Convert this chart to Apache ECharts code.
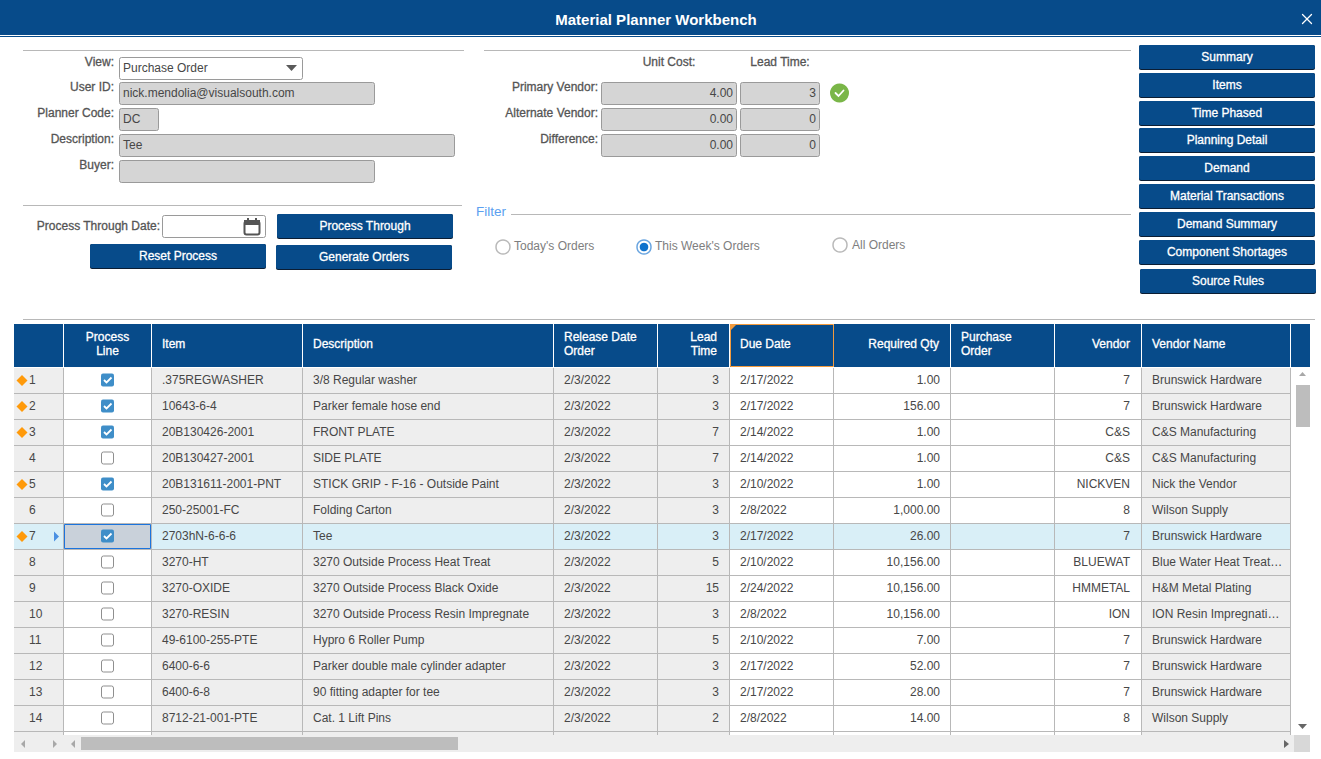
<!DOCTYPE html>
<html><head><meta charset="utf-8">
<style>html,body{margin:0;padding:0;background:#fff;overflow:hidden}#c{width:1321px;height:759px}</style>
<script src="https://cdn.jsdelivr.net/npm/echarts@6/dist/echarts.min.js"></script>
</head><body><div id="c"></div>
<script>
// ---- data ----
const rowNumbers = [1,2,3,4,5,6,7,8,9,10,11,12,13,14];
const processLine = [1,1,1,0,1,0,1,0,0,0,0,0,0,0];
const flagged = [1,1,1,0,1,0,1,0,0,0,0,0,0,0];
const items = ['.375REGWASHER','10643-6-4','20B130426-2001','20B130427-2001','20B131611-2001-PNT','250-25001-FC','2703hN-6-6-6','3270-HT','3270-OXIDE','3270-RESIN','49-6100-255-PTE','6400-6-6','6400-6-8','8712-21-001-PTE'];
const descriptions = ['3/8 Regular washer','Parker female hose end','FRONT PLATE','SIDE PLATE','STICK GRIP - F-16 - Outside Paint','Folding Carton','Tee','3270 Outside Process Heat Treat','3270 Outside Process Black Oxide','3270 Outside Process Resin Impregnate','Hypro 6 Roller Pump','Parker double male cylinder adapter','90 fitting adapter for tee','Cat. 1 Lift Pins'];
const releaseDates = ['2/3/2022','2/3/2022','2/3/2022','2/3/2022','2/3/2022','2/3/2022','2/3/2022','2/3/2022','2/3/2022','2/3/2022','2/3/2022','2/3/2022','2/3/2022','2/3/2022'];
const leadTimes = [3,3,7,7,3,3,3,5,15,3,5,3,3,2];
const dueDates = ['2/17/2022','2/17/2022','2/14/2022','2/14/2022','2/10/2022','2/8/2022','2/17/2022','2/10/2022','2/24/2022','2/8/2022','2/10/2022','2/17/2022','2/17/2022','2/8/2022'];
const requiredQty = ['1.00','156.00','1.00','1.00','1.00','1,000.00','26.00','10,156.00','10,156.00','10,156.00','7.00','52.00','28.00','14.00'];
const vendors = ['7','7','C&S','C&S','NICKVEN','8','7','BLUEWAT','HMMETAL','ION','7','7','7','8'];
const vendorNames = ['Brunswick Hardware','Brunswick Hardware','C&S Manufacturing','C&S Manufacturing','Nick the Vendor','Wilson Supply','Brunswick Hardware','Blue Water Heat Treat…','H&M Metal Plating','ION Resin Impregnati…','Brunswick Hardware','Brunswick Hardware','Brunswick Hardware','Wilson Supply'];
const columnHeaders = ['','Process\nLine','Item','Description','Release Date\nOrder','Lead\nTime','Due Date','Required Qty','Purchase\nOrder','Vendor','Vendor Name'];
const sideButtons = ['Summary','Items','Time Phased','Planning Detail','Demand','Material Transactions','Demand Summary','Component Shortages','Source Rules'];
const selectedRow = 6;

// ---- style / layout ----
const F = 'Liberation Sans, Arial, sans-serif';
const BLUE = '#074b8a', LINE = '#b8b8b8', TXT = '#474747', LBL = '#555555';
const edges = [14,63,151,302,553,657,729,833,950,1054,1141,1290];
const whiteCols = {1:1,6:1,7:1,8:1,9:1};
const ROWH = 26, ROWTOP = 368;

const G = [];
const rect=(x,y,w,h,fill,extra)=>G.push(Object.assign({type:'rect',shape:{x,y,width:w,height:h,r:(extra&&extra.r)||0},style:{fill,stroke:(extra&&extra.stroke)||null,lineWidth:(extra&&extra.lw)||1},silent:true,z:(extra&&extra.z)||1}));
const text=(s,x,y,o={})=>G.push({type:'text',z:o.z||5,silent:true,style:{text:s,x,y,fill:o.fill||LBL,stroke:o.stroke||null,lineWidth:o.stroke?0.3:0,font:(o.weight||'normal')+' '+(o.size||12)+'px '+F,textAlign:o.align||'left',textVerticalAlign:'middle',textBaseline:'middle',lineHeight:o.lh||14}});
const label=(s,x,y,o={})=>text(s,x,y,Object.assign({stroke:LBL},o));
const poly=(pts,fill,z)=>G.push({type:'polygon',silent:true,z:z||5,shape:{points:pts},style:{fill}});
const pl=(pts,stroke,lw,z)=>G.push({type:'polyline',silent:true,z:z||5,shape:{points:pts},style:{stroke,lineWidth:lw,fill:null,lineCap:'round'}});
const circ=(cx,cy,r,fill,stroke,lw)=>G.push({type:'circle',silent:true,z:5,shape:{cx,cy,r},style:{fill,stroke:stroke||null,lineWidth:lw||1}});

// title bar
rect(0,0,1321,35,BLUE); rect(0,36,1321,1,BLUE);
text('Material Planner Workbench',656,19.5,{fill:'#fff',size:15,weight:'bold',align:'center'});
pl([[1302.5,14.5],[1311.5,23.5]],'#fff',1.3); pl([[1311.5,14.5],[1302.5,23.5]],'#fff',1.3);

// separators
rect(23,50,441,1,LINE); rect(484,50,647,1,LINE); rect(23,205,439,1,LINE); rect(511,214,620,1,LINE); rect(23,319,1292,1,LINE);

// left form
const field=(x,y,w,h,fill)=>rect(x+.5,y+.5,w-1,h-1,fill,{stroke:'#9a9a9a',r:2});
[['View:',62],['User ID:',87],['Planner Code:',113],['Description:',139],['Buyer:',165]].forEach(a=>label(a[0],114,a[1],{align:'right'}));
field(119,57,184,23,'#fff'); text('Purchase Order',123,68,{fill:TXT});
poly([[286,65],[297,65],[291.5,71]],'#5a5a5a');
field(119,82,256,23,'#d5d5d5'); text('nick.mendolia@visualsouth.com',123,93,{fill:TXT});
field(119,108,40,23,'#d5d5d5'); text('DC',123,119,{fill:TXT});
field(119,134,336,23,'#d5d5d5'); text('Tee',123,145,{fill:TXT});
field(119,160,256,23,'#d5d5d5');

// middle form
label('Unit Cost:',669,62,{align:'center'}); label('Lead Time:',780,62,{align:'center'});
[['Primary Vendor:',87,'4.00','3',82],['Alternate Vendor:',113,'0.00','0',108],['Difference:',139,'0.00','0',134]].forEach(a=>{
  label(a[0],598,a[1],{align:'right'});
  field(601,a[4],136,23,'#d5d5d5'); field(740,a[4],80,23,'#d5d5d5');
  text(a[2],733,a[4]+11,{align:'right',fill:TXT}); text(a[3],816,a[4]+11,{align:'right',fill:TXT});
});
circ(839.5,93,9.5,'#7ab648');
pl([[835.5,93],[838.5,96],[843.5,90.5]],'#fff',1.8);

// process
label('Process Through Date:',160,226,{align:'right'});
field(162,215,104,23,'#fff');
rect(244.5,221.5,15,13,'#fff',{stroke:'#555',lw:2,r:2,z:5}); rect(244,220,16,5,'#555',{z:6});
rect(247,218,2,3,'#555',{z:6}); rect(255,218,2,3,'#555',{z:6});

const button=(name,x,y,w,h)=>{rect(x,y,w,h,'#0b1d33',{r:2,z:2}); rect(x,y,w,h-1,BLUE,{r:2,z:3}); text(name,x+w/2,y+h/2-1,{fill:'#fff',stroke:'#fff',align:'center'});};
button('Process Through',277,214,176,25);
button('Reset Process',90,244,176,25);
button('Generate Orders',276,245,176,25);

// side buttons
const sideY=[45,73,101,128,156,184,212,240,269];
sideButtons.forEach((b,i)=>button(b,i===8?1140:1139,sideY[i],176,25));

// filter
text('Filter',476,211.5,{fill:'#5b9ff0',size:13.5});
circ(503,247,7,'#fff','#b9b9b9',1.5); text("Today's Orders",514,246,{fill:'#7e7e7e'});
circ(644,247,7,'#fff','#6aa5e0',1.5); circ(644,247,4.3,'#0f72cc'); text("This Week's Orders",655,246,{fill:'#7e7e7e'});
circ(840,245,7,'#fff','#b9b9b9',1.5); text('All Orders',852,245,{fill:'#7e7e7e'});

// table header
rect(14,324,1296,43,BLUE);
for(let i=1;i<edges.length;i++) rect(edges[i],324,1,43,'#fff',{z:2});
const hdrStyle=[null,{x:107.5,a:'center'},{x:162},{x:313},{x:564},{x:717,a:'right'},{x:740},{x:939,a:'right'},{x:961},{x:1130,a:'right'},{x:1152}];
columnHeaders.forEach((h,i)=>{ if(!h) return; const s=hdrStyle[i];
  const ls=h.split('\n'); ls.forEach((t,k)=>text(t,s.x,ls.length>1?337+14*k:344,{fill:'#fff',stroke:'#fff',align:s.a||'left'}));});
// sorted column marker
rect(730.5,324.5,103,42,'none',{stroke:'#f29a3d',z:3}); poly([[730,324],[737,324],[730,331]],'#f29a3d',4);

// scroll bars (drawn over the table)
rect(1291,368,19,366,'#fff',{z:20});
rect(1294,368,27,367,'#fff',{z:19});
rect(1296,385,14,42,'#bdbdbd',{z:21});
poly([[1299,376],[1306,376],[1302.5,372]],'#a8a8a8',21);
poly([[1298,724],[1307,724],[1302.5,729]],'#666',21);
rect(14,735,1280,17,'#eeeeee',{z:20}); rect(1294,735,16,17,'#d8d8d8',{z:20});
rect(0,752,1321,7,'#ffffff',{z:20});
rect(81,737,377,13,'#bdbdbd',{z:21});
poly([[25,740],[25,748],[21,744]],'#a8a8a8',21);
poly([[53,740],[53,748],[57,744]],'#a8a8a8',21);
poly([[75,740],[75,748],[71,744]],'#a8a8a8',21);
poly([[1284,740],[1284,748],[1289,744]],'#666',21);

// table body: one datum per row, placed through the axes
const rowData = rowNumbers.map((n,i)=>[i]);
rowData.push([14]);

function renderRow(params, api){
  const r = api.value(0), kids=[];
  const top = api.coord([14,r])[1] - ROWH/2 ;
  const px = x => api.coord([x,r])[0];
  const sel = r===selectedRow, blank = r>=rowNumbers.length;
  for(let c=0;c<edges.length-1;c++){
    const x0=px(edges[c]), x1=px(edges[c+1]);
    const fill = sel ? '#d9eff7' : (whiteCols[c] ? '#ffffff' : '#eeeeee');
    kids.push({type:'rect',shape:{x:x0,y:top,width:x1-x0,height:ROWH},style:{fill}});
    if(c>0) kids.push({type:'rect',shape:{x:x0,y:top,width:1,height:ROWH},style:{fill:LINE}});
  }
  kids.push({type:'rect',shape:{x:px(1290),y:top,width:1,height:ROWH},style:{fill:LINE}});
  kids.push({type:'rect',shape:{x:14,y:top+ROWH-1,width:1280,height:1},style:{fill:LINE}});
  if(blank) return {type:'group',children:kids};
  const cy = top+12.5;
  const ty = cy-0.5;
  const t=(s,x,a)=>kids.push({type:'text',style:{text:String(s),x:px(x),y:ty,fill:TXT,font:'12px '+F,textAlign:a||'left',textVerticalAlign:'middle'}});
  if(sel){
    kids.push({type:'rect',shape:{x:px(64)+.5,y:top+.5,width:86,height:ROWH-2},style:{fill:'#c9d1da',stroke:'#1c74dc',lineWidth:1}});
    kids.push({type:'polygon',shape:{points:[[54,cy-5],[54,cy+5],[59,cy]]},style:{fill:'#4a90e2'}});
  }
  if(flagged[r]) kids.push({type:'polygon',shape:{points:[[22,cy-5.5],[27.5,cy],[22,cy+5.5],[16.5,cy]]},style:{fill:'#ff9a0a'}});
  t(rowNumbers[r],29);
  // checkbox
  const bx=101.5, by=cy-6.5;
  if(processLine[r]){
    kids.push({type:'rect',shape:{x:bx-.5,y:by-.5,width:13,height:13,r:2},style:{fill:'#3f8ec8'}});
    kids.push({type:'polyline',shape:{points:[[bx+2.5,by+6],[bx+5,by+8.5],[bx+10,by+3.5]]},style:{stroke:'#fff',lineWidth:1.8,fill:null}});
  } else {
    kids.push({type:'rect',shape:{x:bx,y:by,width:12,height:12,r:2},style:{fill:'#fff',stroke:'#8f8f8f',lineWidth:1}});
  }
  t(items[r],162); t(descriptions[r],313); t(releaseDates[r],564);
  t(leadTimes[r],719,'right'); t(dueDates[r],740); t(requiredQty[r],940,'right');
  t(vendors[r],1130,'right'); t(vendorNames[r],1152);
  return {type:'group',children:kids};
}

const chart = echarts.init(document.getElementById('c'),null,{renderer:'svg',width:1321,height:759});
chart.setOption({
  animation:false,
  backgroundColor:'#ffffff',
  grid:{left:14,top:ROWTOP,width:1277,height:ROWH*15,containLabel:false},
  xAxis:{type:'value',min:14,max:1291,show:false},
  yAxis:{type:'category',inverse:true,show:false,data:rowData.map(d=>d[0])},
  series:[{type:'custom',coordinateSystem:'cartesian2d',clip:false,z:2,silent:true,data:rowData,encode:{x:-1,y:0},renderItem:renderRow}],
  graphic:{elements:G}
});
</script></body></html>
